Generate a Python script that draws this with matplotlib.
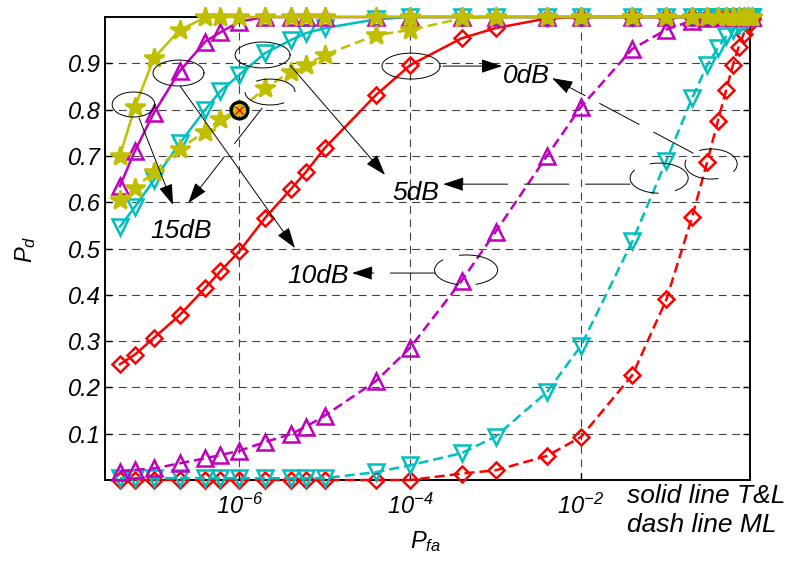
import numpy as np
import matplotlib
matplotlib.use("Agg")
import matplotlib.pyplot as plt

plt.rcParams["font.family"] = ["Liberation Sans", "DejaVu Sans"]
plt.rcParams["font.style"] = "italic"
plt.rcParams["mathtext.fontset"] = "custom"
plt.rcParams["mathtext.rm"] = "Liberation Sans:italic"
plt.rcParams["mathtext.it"] = "Liberation Sans:italic"

# false-alarm probabilities (shared by all curves)
pfa = [4e-8, 6e-8, 1e-7, 2e-7, 4e-7, 6e-7, 1e-6, 2e-6, 4e-6, 6e-6, 1e-5, 4e-5, 1e-4,
       4e-4, 1e-3, 4e-3, 1e-2, 4e-2, 1e-1, 0.2, 0.3, 0.4, 0.5, 0.6, 0.7, 0.8, 0.9, 1.0]

# detection probability, T&L (solid) and ML (dashed)
pd_0db_tl = [0.250, 0.271, 0.307, 0.356, 0.415, 0.451, 0.494, 0.566, 0.628, 0.665, 0.717, 0.832,
             0.896, 0.954, 0.976, 0.997] + [1.0] * 12
pd_0db_ml = [0.0] * 13 + [0.014, 0.021, 0.052, 0.093, 0.227, 0.390, 0.568, 0.687, 0.775, 0.842,
                          0.896, 0.935, 0.963, 0.982, 0.995]
pd_5db_tl = [0.547, 0.590, 0.648, 0.727, 0.800, 0.840, 0.875, 0.922, 0.950, 0.965, 0.976,
             0.995] + [1.0] * 16
pd_5db_ml = [0.004] * 11 + [0.017, 0.032, 0.058, 0.094, 0.190, 0.290, 0.516, 0.690, 0.825, 0.896,
                            0.933, 0.958, 0.972, 0.983, 0.990, 0.996, 1.0]
pd_10db_tl = [0.635, 0.711, 0.793, 0.883, 0.947, 0.967, 0.990] + [1.0] * 21
pd_10db_ml = [0.018, 0.022, 0.025, 0.036, 0.047, 0.054, 0.063, 0.082, 0.099, 0.115, 0.139, 0.214,
              0.286, 0.430, 0.536, 0.700, 0.806, 0.931, 0.973, 0.992, 0.998] + [1.0] * 7
pd_15db_tl = [0.700, 0.806, 0.911, 0.972, 0.999] + [1.0] * 23
pd_15db_ml = [0.604, 0.630, 0.666, 0.716, 0.752, 0.780, 0.800, 0.846, 0.882, 0.896, 0.918, 0.961,
              0.972, 0.997] + [1.0] * 14

xtick_vals = [1e-6, 1e-4, 1e-2]
xtick_labels = [r"$10^{-6}$", r"$10^{-4}$", r"$10^{-2}$"]
ytick_vals = [0.1, 0.2, 0.3, 0.4, 0.5, 0.6, 0.7, 0.8, 0.9]

RED, CYAN, MAG, YEL = "#FF0000", "#00BFBF", "#BF00BF", "#BFBF00"
DASH = (0, (4, 2))
NOTE_DASH = (0, (46, 17))


def ring(ax, xc, yc, wdec, h, ls="-"):
    # ellipse that looks round on a log x axis
    t = np.linspace(0, 2 * np.pi, 240)
    ax.plot(xc * 10 ** (wdec / 2 * np.cos(t)), yc + h / 2 * np.sin(t),
            color="k", lw=0.7, ls=ls, clip_on=False, zorder=6)


def arrow(ax, tail, tip, ls="-"):
    ax.annotate("", xy=tip, xytext=tail,
                arrowprops=dict(arrowstyle="-|>,head_length=1.3,head_width=0.43", mutation_scale=10,
                                color="k", lw=0.7, ls=ls, shrinkA=0, shrinkB=0),
                zorder=6, annotation_clip=False)


fig = plt.figure(figsize=(8.07, 5.65), dpi=100)
ax = fig.add_axes([0.1301, 0.1504, 0.7993, 0.8195])
ax.set_xscale("log")

series = [
    (pd_0db_tl, RED, "D", 8, "-"),
    (pd_0db_ml, RED, "D", 8, DASH),
    (pd_5db_tl, CYAN, "v", 11, "-"),
    (pd_5db_ml, CYAN, "v", 11, DASH),
    (pd_10db_tl, MAG, "^", 11, "-"),
    (pd_10db_ml, MAG, "^", 11, DASH),
    (pd_15db_tl, YEL, "*", 15, "-"),
    (pd_15db_ml, YEL, "*", 15, DASH),
]
for vals, col, mk, ms, ls in series:
    filled = mk == "*"
    ax.plot(pfa, vals, color=col, ls=ls, lw=1.8, marker=mk, ms=ms, mew=1.8,
            mfc=col if filled else "none", mec=col, clip_on=False, zorder=3)

# highlighted point
ax.plot(pfa[6], pd_15db_ml[6], "o", ms=12, mfc="none", mec="k", mew=2.4, zorder=7, clip_on=False)
ax.plot(pfa[6], pd_15db_ml[6], "x", ms=6, mec=RED, mew=1.0, zorder=8, clip_on=False)

# annotations: T&L solid, ML dashed
ring(ax, 10 ** -3.99, 0.894, 0.68, 0.056)
arrow(ax, (10 ** -3.615, 0.894), (10 ** -2.924, 0.894))
ring(ax, 10 ** -0.477, 0.6825, 0.61, 0.065, NOTE_DASH)
arrow(ax, (10 ** -0.687, 0.706), (10 ** -2.338, 0.868), NOTE_DASH)
ax.text(10 ** -2.912, 0.857, "0dB", fontsize=19, ha="left", va="baseline")

ring(ax, 10 ** -5.728, 0.918, 0.644, 0.056)
arrow(ax, (10 ** -5.406, 0.896), (10 ** -4.294, 0.659))
ring(ax, 10 ** -1.085, 0.652, 0.68, 0.065, NOTE_DASH)
arrow(ax, (10 ** -1.424, 0.639), (10 ** -3.614, 0.639), NOTE_DASH)
ax.text(10 ** -4.212, 0.605, "5dB", fontsize=19, ha="left", va="baseline")

ring(ax, 10 ** -6.712, 0.879, 0.597, 0.056)
arrow(ax, (10 ** -6.694, 0.851), (10 ** -5.348, 0.501))
ring(ax, 10 ** -3.345, 0.4536, 0.738, 0.065, NOTE_DASH)
arrow(ax, (10 ** -3.708, 0.447), (10 ** -4.68, 0.447), NOTE_DASH)
ax.text(10 ** -5.441, 0.425, "10dB", fontsize=19, ha="left", va="baseline")

ring(ax, 10 ** -7.239, 0.811, 0.50, 0.054)
arrow(ax, (10 ** -7.174, 0.782), (10 ** -6.776, 0.594))
ring(ax, 10 ** -5.64, 0.838, 0.585, 0.056, NOTE_DASH)
arrow(ax, (10 ** -5.734, 0.803), (10 ** -6.598, 0.598), NOTE_DASH)
ax.text(10 ** -7.045, 0.523, "15dB", fontsize=19, ha="left", va="baseline")

ax.set_xlim(2.675e-8, 0.953)
ax.set_ylim(0, 1)
ax.set_xticks(xtick_vals)
ax.set_xticklabels(xtick_labels, fontsize=17)
ax.minorticks_off()
ax.set_yticks(ytick_vals)
ax.set_yticklabels([f"{v:.1f}" for v in ytick_vals], fontsize=17)
ax.tick_params(direction="in", top=True, right=True, length=5, width=1.0)
ax.tick_params(axis="x", pad=10)
ax.tick_params(axis="y", pad=3)
ax.grid(True, ls=(0, (7, 5)), color="#404040", lw=0.8)
for sp in ax.spines.values():
    sp.set_linewidth(1.4)

fig.text(410 / 807, 1 - 548 / 565, r"$P_{fa}$", fontsize=17, ha="left", va="baseline")
fig.text(32 / 807, 1 - 263 / 565, r"$P_d$", fontsize=17, rotation=90, rotation_mode="anchor",
         ha="left", va="baseline")
fig.text(627 / 807, 1 - 503 / 565, "solid line T&L", fontsize=19, ha="left", va="baseline")
fig.text(627 / 807, 1 - 532 / 565, "dash line ML", fontsize=19, ha="left", va="baseline")

fig.savefig("out.png", dpi=100)
